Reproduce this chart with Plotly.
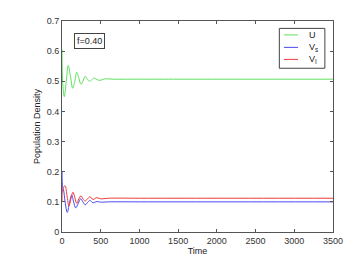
import plotly.graph_objects as go

# U (green)
t_u = [0, 8, 30, 55, 81, 110, 138, 165, 190, 218, 245, 270, 297, 325, 353, 385, 413, 450, 490, 550, 650, 800, 1000, 2000, 3500]
u = [0.605, 0.50, 0.449, 0.50, 0.552, 0.515, 0.477, 0.50, 0.530, 0.51, 0.490, 0.50, 0.516, 0.508, 0.500, 0.505, 0.511, 0.506, 0.503, 0.508, 0.507, 0.507, 0.507, 0.507, 0.507]

# Vs (blue)
t_vs = [0, 8, 20, 40, 68, 95, 125, 150, 177, 210, 240, 270, 300, 330, 360, 400, 450, 500, 600, 1000, 2000, 3500]
vs = [0.200, 0.150, 0.140, 0.100, 0.065, 0.095, 0.123, 0.100, 0.080, 0.095, 0.110, 0.100, 0.090, 0.098, 0.105, 0.097, 0.101, 0.099, 0.100, 0.100, 0.100, 0.100]

# Vi (red)
t_vi = [0, 12, 40, 65, 90, 115, 142, 165, 190, 218, 245, 270, 300, 330, 360, 400, 450, 500, 600, 1000, 2000, 3500]
vi = [0.100, 0.145, 0.153, 0.120, 0.086, 0.110, 0.132, 0.115, 0.095, 0.110, 0.120, 0.110, 0.103, 0.110, 0.117, 0.108, 0.114, 0.110, 0.112, 0.112, 0.112, 0.112]

x_ticks = [0, 500, 1000, 1500, 2000, 2500, 3000, 3500]
y_ticks = [0, 0.1, 0.2, 0.3, 0.4, 0.5, 0.6, 0.7]

series_names = ["U", "V<sub>s</sub>", "V<sub>I</sub>"]
series_colors = ["#5ee05e", "#4a4af0", "#ec3c3c"]

fig = go.Figure()
for tx, ty, nm, col in zip([t_u, t_vs, t_vi], [u, vs, vi], series_names, series_colors):
    fig.add_trace(go.Scatter(x=tx, y=ty, mode="lines", name=nm, showlegend=False,
                             line=dict(color=col, width=1, shape="spline")))

axis_common = dict(showgrid=False, zeroline=False, showline=True, linecolor="#555555",
                   linewidth=1, mirror="ticks", ticks="inside", ticklen=3,
                   tickcolor="#555555", tickfont=dict(size=9, color="#333333"),
                   automargin=False)

fig.update_xaxes(range=[0, 3500], tickvals=x_ticks, ticktext=[str(v) for v in x_ticks],
                 title=dict(text="Time", font=dict(size=9, color="#222222"), standoff=1),
                 **axis_common)
fig.update_yaxes(range=[0, 0.7], tickvals=y_ticks, ticktext=[("0" if v == 0 else f"{v:.1f}") for v in y_ticks],
                 title=dict(text="Population Density", font=dict(size=9, color="#222222"), standoff=4),
                 **axis_common)

fig.add_annotation(text="f=0.40", xref="paper", yref="paper", x=0.044, y=0.943,
                   xanchor="left", yanchor="top", showarrow=False,
                   font=dict(size=9, color="#222222"),
                   bordercolor="#444444", borderwidth=1, borderpad=2, bgcolor="white")

# manual legend box
fig.add_shape(type="rect", xref="paper", yref="paper", x0=0.802, x1=0.970, y0=0.776, y1=0.965,
              line=dict(color="#444444", width=1), fillcolor="white", layer="above")
legend_rows = [0.934, 0.875, 0.818]
for yy, nm, col in zip(legend_rows, series_names, series_colors):
    fig.add_shape(type="line", xref="paper", yref="paper", x0=0.819, x1=0.871, y0=yy, y1=yy,
                  line=dict(color=col, width=1), layer="above")
    fig.add_annotation(text=nm, xref="paper", yref="paper", x=0.905, y=yy,
                       xanchor="left", yanchor="middle", showarrow=False,
                       font=dict(size=9, color="#222222"))

fig.update_layout(
    width=355, height=260,
    margin=dict(l=54, r=30, t=13, b=36),
    paper_bgcolor="white", plot_bgcolor="white",
    font=dict(family="Liberation Sans, Arial, sans-serif", size=9, color="#222222"),
    showlegend=False,
)

fig.write_html("out.html")
